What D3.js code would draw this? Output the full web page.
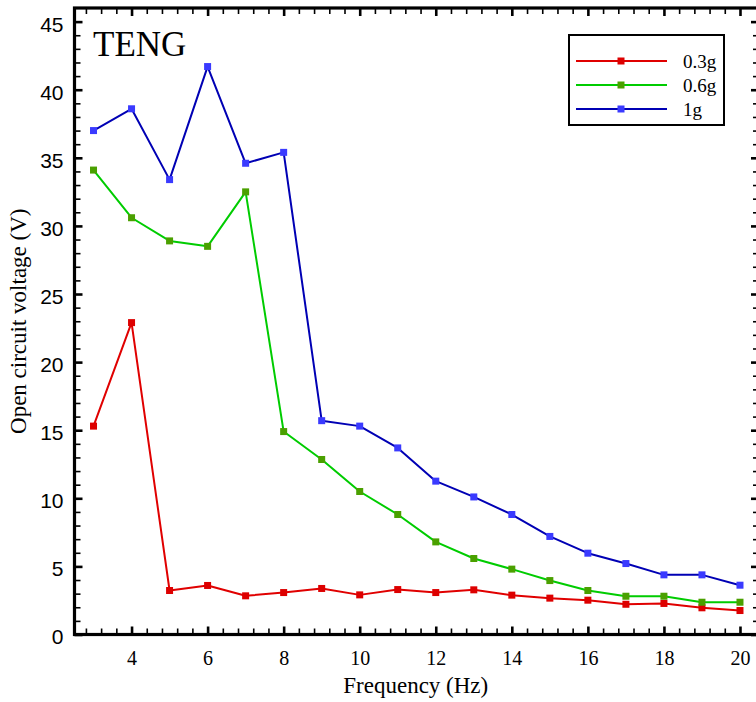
<!DOCTYPE html>
<html>
<head>
<meta charset="utf-8">
<script src="https://cdn.jsdelivr.net/npm/d3@7/dist/d3.min.js"></script>
<style>
  html, body { margin: 0; padding: 0; background: #fff; }
  svg { display: block; }
</style>
</head>
<body>
<svg id="chart" width="756" height="702"></svg>
<script>
// ---- data ----
const frequencies = [3,4,5,6,7,8,9,10,11,12,13,14,15,16,17,18,19,20];
const series03 = [15.3,22.9,3.23,3.6,2.84,3.08,3.38,2.91,3.3,3.08,3.28,2.89,2.67,2.52,2.22,2.28,1.96,1.76];
const series06 = [34.1,30.6,28.9,28.5,32.5,14.9,12.85,10.5,8.81,6.8,5.58,4.8,3.96,3.23,2.81,2.81,2.37,2.37];
const series1  = [37.0,38.6,33.4,41.7,34.6,35.4,15.7,15.3,13.7,11.26,10.1,8.81,7.2,5.97,5.21,4.38,4.38,3.62];
const seriesNames = ["0.3g","0.6g","1g"];
const xTickValues = [4,6,8,10,12,14,16,18,20];
const yTickValues = [0,5,10,15,20,25,30,35,40,45];
const chartTitle = "TENG";
const xTitle = "Frequency (Hz)";
const yTitle = "Open circuit voltage (V)";

// ---- styles ----
const lineColors = ["#e00000", "#00cc00", "#0000b4"];
const markerColors = ["#dd0000", "#4aa000", "#3a3aff"];

const svg = d3.select("#chart");
const L = 74.5, R = 759, T = 8, B = 634.5;

const x = d3.scaleLinear().domain([2.5, 20.5]).range([L, R]);
const y = d3.scaleLinear().domain([0, 46]).range([B, T]);

const xMinor = d3.range(2.8, 20.3, 0.4).filter(v => Math.abs(Math.round(v) - v) > 0.05 || Math.round(v) % 2 !== 0);
const yMinor = d3.range(1, 46, 1).filter(v => v % 5 !== 0);

const serif = "'Liberation Serif', 'Times New Roman', serif";
const sans = "'Liberation Sans', Arial, sans-serif";

function styleAxis(g, width) {
  g.select(".domain").remove();
  g.selectAll(".tick line").attr("stroke", "#000").attr("stroke-width", width);
}

// minor ticks
svg.append("g").attr("transform", `translate(0,${B})`)
  .call(d3.axisBottom(x).tickValues(xMinor).tickSize(-6).tickFormat(""))
  .call(g => styleAxis(g, 1.6));
svg.append("g").attr("transform", `translate(0,${T})`)
  .call(d3.axisTop(x).tickValues(xMinor).tickSize(-6).tickFormat(""))
  .call(g => styleAxis(g, 1.6));
svg.append("g").attr("transform", `translate(${L},0)`)
  .call(d3.axisLeft(y).tickValues(yMinor).tickSize(-6).tickFormat(""))
  .call(g => styleAxis(g, 1.6));
svg.append("g").attr("transform", `translate(${R},0)`)
  .call(d3.axisRight(y).tickValues(yMinor).tickSize(-6).tickFormat(""))
  .call(g => styleAxis(g, 1.6));

// major ticks
svg.append("g").attr("transform", `translate(0,${B})`)
  .call(d3.axisBottom(x).tickValues(xTickValues).tickSizeInner(-8).tickSizeOuter(0).tickPadding(16).tickFormat(d3.format("d")))
  .call(g => styleAxis(g, 2.6))
  .call(g => g.selectAll("text").attr("font-family", serif).attr("font-size", 20).attr("fill", "#000"));
svg.append("g").attr("transform", `translate(0,${T})`)
  .call(d3.axisTop(x).tickValues(xTickValues).tickSize(-8).tickFormat(""))
  .call(g => styleAxis(g, 2.6));
svg.append("g").attr("transform", `translate(${L},0)`)
  .call(d3.axisLeft(y).tickValues(yTickValues).tickSizeInner(-8).tickSizeOuter(0).tickPadding(11).tickFormat(d3.format("d")))
  .call(g => styleAxis(g, 2.6))
  .call(g => g.selectAll("text").attr("font-family", sans).attr("font-size", 21).attr("fill", "#000").attr("dy", "0.45em"));
svg.append("g").attr("transform", `translate(${R},0)`)
  .call(d3.axisRight(y).tickValues(yTickValues).tickSize(-8).tickFormat(""))
  .call(g => styleAxis(g, 2.6));

// frame
svg.append("rect").attr("x", L).attr("y", T).attr("width", R - L).attr("height", B - T)
  .attr("fill", "none").attr("stroke", "#000").attr("stroke-width", 3.2);

// series
const allSeries = [series03, series06, series1];
const line = d3.line().x(d => x(d[0])).y(d => y(d[1]));
allSeries.forEach((vals, i) => {
  const pts = frequencies.map((f, j) => [f, vals[j]]);
  const g = svg.append("g");
  g.append("path").datum(pts).attr("d", line).attr("fill", "none")
    .attr("stroke", lineColors[i]).attr("stroke-width", 2).attr("stroke-linejoin", "round");
  g.selectAll("rect").data(pts).join("rect")
    .attr("x", d => x(d[0]) - 3.5).attr("y", d => y(d[1]) - 3.5)
    .attr("width", 7).attr("height", 7).attr("fill", markerColors[i]);
});

// chart label
svg.append("text").attr("x", 93).attr("y", 56).attr("font-family", serif)
  .attr("font-size", 35).attr("fill", "#000").text(chartTitle);

// axis titles
svg.append("text").attr("x", (L + 757) / 2).attr("y", 693).attr("text-anchor", "middle")
  .attr("font-family", serif).attr("font-size", 23).attr("fill", "#000").text(xTitle);
svg.append("text").attr("transform", `translate(26,${(T + B) / 2}) rotate(-90)`).attr("text-anchor", "middle")
  .attr("font-family", serif).attr("font-size", 23).attr("fill", "#000").text(yTitle);

// legend
const lg = svg.append("g");
lg.append("rect").attr("x", 569).attr("y", 35).attr("width", 155).attr("height", 90)
  .attr("fill", "#fff").attr("stroke", "#000").attr("stroke-width", 2);
const rowY = d3.scalePoint().domain(seriesNames).range([61, 109]);
seriesNames.forEach((name, i) => {
  const yy = rowY(name);
  lg.append("line").attr("x1", 576).attr("x2", 667).attr("y1", yy).attr("y2", yy)
    .attr("stroke", lineColors[i]).attr("stroke-width", 2);
  lg.append("rect").attr("x", 621 - 3.5).attr("y", yy - 3.5).attr("width", 7).attr("height", 7)
    .attr("fill", markerColors[i]);
  lg.append("text").attr("x", 683).attr("y", yy + 7).attr("font-family", serif)
    .attr("font-size", 19).attr("fill", "#000").text(name);
});
</script>
</body>
</html>
